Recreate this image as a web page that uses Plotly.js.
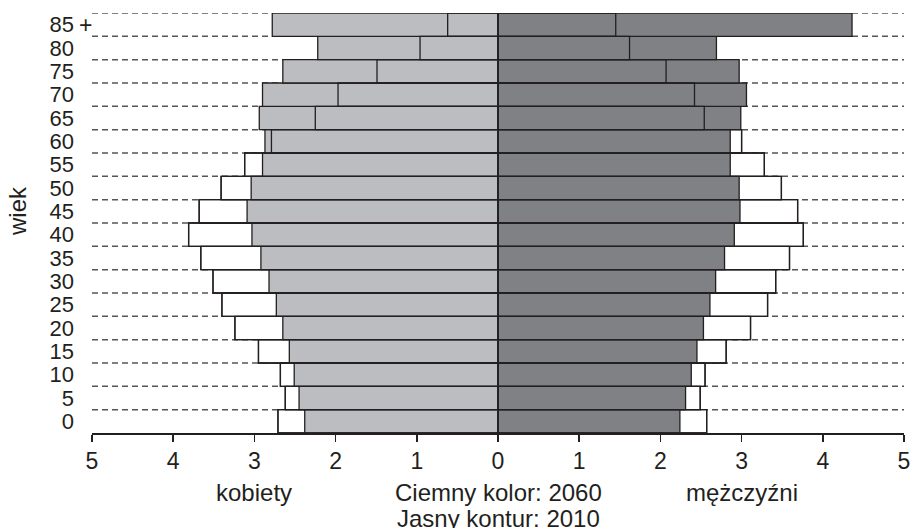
<!DOCTYPE html>
<html>
<head>
<meta charset="utf-8">
<script src="https://cdn.plot.ly/plotly-3.0.1.min.js"></script>
<style>html,body{margin:0;padding:0;background:#fff;}#chart{width:912px;height:528px;}</style>
</head>
<body>
<div id="chart"></div>
<script>
// Age groups (bottom to top)
var ageLabels = ["0","5","10","15","20","25","30","35","40","45","50","55","60","65","70","75","80","85"];
// Women (kobiety), in %, 2010 outline and 2060 filled
var women2010 = [2.71,2.62,2.68,2.95,3.24,3.40,3.51,3.66,3.81,3.68,3.41,3.12,2.79,2.25,1.97,1.49,0.96,0.62];
var women2060 = [2.38,2.45,2.51,2.57,2.65,2.73,2.82,2.92,3.03,3.09,3.04,2.90,2.87,2.94,2.90,2.65,2.22,2.78];
// Men (mężczyźni)
var men2010 = [2.57,2.49,2.55,2.81,3.11,3.32,3.42,3.59,3.76,3.69,3.49,3.28,3.00,2.54,2.42,2.07,1.62,1.45];
var men2060 = [2.24,2.31,2.38,2.45,2.53,2.61,2.68,2.79,2.91,2.98,2.97,2.86,2.86,2.99,3.06,2.97,2.69,4.36];
var xTicks = [-5,-4,-3,-2,-1,0,1,2,3,4,5];

var ink = "#231f20";
var lightGray = "#bcbdc0";
var darkGray = "#808184";
var font = "Liberation Sans, Arial, sans-serif";
var yIdx = ageLabels.map(function(_, i){ return i; });
var neg = function(a){ return a.map(function(v){ return -v; }); };

function bar(x, fill, lw){
  return {type:"bar", orientation:"h", x:x, y:yIdx, width:1,
    marker:{color:fill, line:{color:ink, width:lw}}, hoverinfo:"skip", showlegend:false};
}
var traces = [
  bar(neg(women2010), "#ffffff", 1.3),
  bar(men2010, "#ffffff", 1.3),
  bar(neg(women2060), lightGray, 1.3),
  bar(men2060, darkGray, 1.3),
  bar(neg(women2010), "rgba(0,0,0,0)", 1.3),
  bar(men2010, "rgba(0,0,0,0)", 1.3)
];

var shapes = [];
for (var k = 0; k < ageLabels.length; k++) {
  shapes.push({type:"line", layer:"below", xref:"paper", yref:"y", x0:0, x1:1,
    y0:k+0.5, y1:k+0.5, line:{color:"#555555", width:1.5, dash:"6px,4px"}});
}

var yf = {family:font, size:22, color:ink};
var tf = {family:font, size:23, color:ink};
var lf = {family:font, size:24, color:ink};
var annotations = [
  {xref:"paper", yref:"y", x:0, y:ageLabels.length-1, xanchor:"right", yanchor:"middle",
   text:"+", showarrow:false, font:tf, xshift:2},
  {xref:"paper", yref:"paper", x:-0.0911, y:0.5286, xanchor:"center", yanchor:"middle",
   text:"wiek", textangle:-90, showarrow:false, font:lf},
  {xref:"x", yref:"paper", x:-3, y:-0.1414, yanchor:"middle", text:"kobiety", showarrow:false, font:lf},
  {xref:"x", yref:"paper", x:3, y:-0.1414, yanchor:"middle", text:"mężczyźni", showarrow:false, font:lf},
  {xref:"x", yref:"paper", x:0, y:-0.1414, yanchor:"middle", text:"Ciemny kolor: 2060", showarrow:false, font:lf},
  {xref:"x", yref:"paper", x:0, y:-0.2034, yanchor:"middle", text:"Jasny kontur: 2010", showarrow:false, font:lf}
];

var layout = {
  width:912, height:528,
  margin:{l:92, r:8, t:13, b:95},
  paper_bgcolor:"#ffffff", plot_bgcolor:"#ffffff",
  barmode:"overlay",
  showlegend:false,
  font:{family:font, size:23, color:ink},
  xaxis:{range:[-5,5], tickvals:xTicks, ticktext:xTicks.map(function(v){return String(Math.abs(v));}),
    showgrid:false, zeroline:false, showline:true, linecolor:ink, linewidth:1.5,
    ticks:"outside", ticklen:7, tickwidth:1.5, tickcolor:ink, fixedrange:true, tickfont:tf},
  yaxis:{range:[-0.5, ageLabels.length-0.5], tickvals:yIdx, ticktext:ageLabels,
    showgrid:false, zeroline:false, showline:false, ticks:"", ticklabelstandoff:17,
    tickfont:yf, fixedrange:true},
  shapes:shapes,
  annotations:annotations
};

Plotly.newPlot("chart", traces, layout, {displayModeBar:false, staticPlot:true});
</script>
</body>
</html>
